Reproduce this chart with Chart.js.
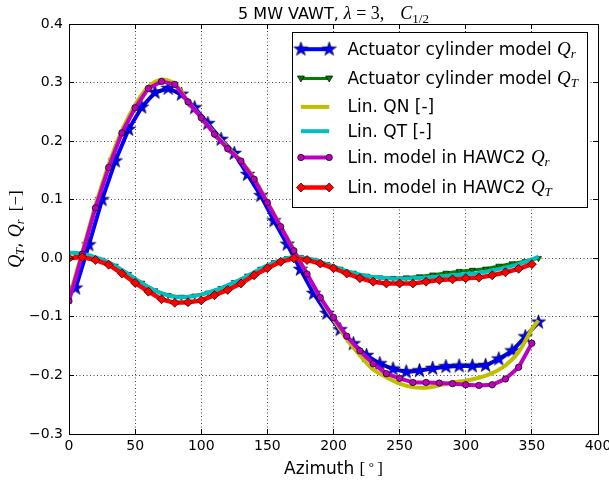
<!DOCTYPE html>
<html>
<head>
<meta charset="utf-8">
<title>5 MW VAWT</title>
<script src="https://cdn.jsdelivr.net/npm/chart.js@4.4.1/dist/chart.umd.min.js"></script>
<style>
  html, body { margin: 0; padding: 0; background: #fff; }
  canvas { display: block; }
</style>
</head>
<body>
<canvas id="chart" width="609" height="482"></canvas>
<script>
// azimuth samples [deg]
const azimuthEven = [0,10,20,30,40,50,60,70,80,90,100,110,120,130,140,150,160,170,180,190,200,210,220,230,240,250,260,270,280,290,300,310,320,330,340,350];
const azimuthOdd = [5,15,25,35,45,55,65,75,85,95,105,115,125,135,145,155,165,175,185,195,205,215,225,235,245,255,265,275,285,295,305,315,325,335,345,355];
const azimuthLin = azimuthEven.concat([355]);

// actuator cylinder model (5..355)
const acQr = [-0.051,0.023,0.100,0.166,0.220,0.258,0.283,0.290,0.280,0.257,0.230,0.203,0.179,0.143,0.107,0.064,0.024,-0.019,-0.060,-0.094,-0.122,-0.146,-0.166,-0.180,-0.189,-0.194,-0.192,-0.188,-0.185,-0.184,-0.184,-0.183,-0.172,-0.158,-0.134,-0.109];
const acQt = [0.007,0.004,-0.003,-0.013,-0.027,-0.042,-0.055,-0.063,-0.066,-0.064,-0.059,-0.051,-0.041,-0.030,-0.018,-0.007,0.000,0.002,-0.003,-0.010,-0.018,-0.025,-0.030,-0.033,-0.034,-0.033,-0.031,-0.028,-0.025,-0.022,-0.020,-0.018,-0.013,-0.009,-0.005,0.000];

// linear model (0..350, 355)
const linQn = [-0.068,0.010,0.090,0.160,0.218,0.262,0.293,0.305,0.298,0.268,0.240,0.214,0.189,0.167,0.136,0.096,0.055,0.014,-0.027,-0.068,-0.104,-0.138,-0.166,-0.190,-0.203,-0.214,-0.220,-0.221,-0.217,-0.212,-0.209,-0.204,-0.196,-0.183,-0.160,-0.121,-0.106];
const linQt = [0.010,0.008,0.002,-0.007,-0.020,-0.035,-0.049,-0.060,-0.066,-0.066,-0.062,-0.055,-0.046,-0.036,-0.024,-0.012,-0.003,0.002,0.000,-0.006,-0.014,-0.022,-0.028,-0.032,-0.034,-0.035,-0.034,-0.033,-0.031,-0.029,-0.027,-0.025,-0.021,-0.016,-0.010,-0.002,0.003];

// linear model in HAWC2 (0..350)
const hawcQr = [-0.073,0.007,0.086,0.155,0.214,0.257,0.290,0.302,0.297,0.267,0.240,0.212,0.187,0.166,0.135,0.095,0.054,0.013,-0.027,-0.067,-0.101,-0.133,-0.158,-0.180,-0.197,-0.205,-0.212,-0.212,-0.213,-0.214,-0.216,-0.217,-0.216,-0.206,-0.186,-0.145];
const hawcQt = [0.000,0.002,-0.003,-0.011,-0.026,-0.042,-0.057,-0.070,-0.076,-0.075,-0.072,-0.063,-0.054,-0.043,-0.029,-0.017,-0.006,0.000,-0.003,-0.009,-0.017,-0.026,-0.034,-0.040,-0.043,-0.043,-0.043,-0.040,-0.037,-0.036,-0.034,-0.033,-0.029,-0.024,-0.018,-0.010];

const xTicks = [0,50,100,150,200,250,300,350,400];
const yTicks = [-0.3,-0.2,-0.1,0.0,0.1,0.2,0.3,0.4];

const SANS = 'DejaVu Sans';
const MATH = 'Liberation Serif';

const pts = (xs, ys) => xs.map((x, i) => ({ x: x, y: ys[i] }));

function makeStar(size, fill) {
  const c = document.createElement('canvas');
  c.width = c.height = size;
  const g = c.getContext('2d');
  const R = size / 2 - 1, r = R * 0.4, m = size / 2;
  g.beginPath();
  for (let i = 0; i < 10; i++) {
    const a = -Math.PI / 2 + i * Math.PI / 5;
    const rad = i % 2 ? r : R;
    g.lineTo(m + rad * Math.cos(a), m + rad * Math.sin(a));
  }
  g.closePath();
  g.fillStyle = fill;
  g.fill();
  g.strokeStyle = '#000';
  g.lineWidth = 0.6;
  g.stroke();
  return c;
}
const star = makeStar(17, '#0000ff');

// text made of pieces in different fonts (for the math bits)
function drawRuns(ctx, runs, x, y, center) {
  let w = 0;
  runs.forEach(r => {
    ctx.font = r.f || '10px ' + SANS;
    r.w = r.gap !== undefined ? r.gap : ctx.measureText(r.t).width;
    w += r.w;
  });
  let cx = center ? x - w / 2 : x;
  runs.forEach(r => {
    if (r.t) { ctx.font = r.f; ctx.fillText(r.t, cx, y + (r.dy || 0)); }
    cx += r.w;
  });
}

const px = v => Math.floor(v) + 0.5;

const framePlugin = {
  id: 'frame',
  afterDatasetsDraw(chart) {
    const ctx = chart.ctx;
    const a = chart.chartArea;
    const xs = chart.scales.x, ys = chart.scales.y;
    ctx.save();
    ctx.strokeStyle = '#000';
    ctx.lineWidth = 1;
    ctx.beginPath();
    xTicks.forEach(v => {
      const p = px(xs.getPixelForValue(v));
      ctx.moveTo(p, a.bottom); ctx.lineTo(p, a.bottom - 5);
      ctx.moveTo(p, a.top); ctx.lineTo(p, a.top + 5);
    });
    yTicks.forEach(v => {
      const p = px(ys.getPixelForValue(v));
      ctx.moveTo(a.left, p); ctx.lineTo(a.left + 5, p);
      ctx.moveTo(a.right, p); ctx.lineTo(a.right - 5, p);
    });
    ctx.stroke();
    ctx.strokeRect(px(a.left), px(a.top), Math.round(a.right - a.left), Math.round(a.bottom - a.top));
    ctx.restore();
  }
};

function legendMarker(ctx, kind, x, y) {
  ctx.save();
  ctx.lineWidth = 0.7;
  ctx.strokeStyle = '#000';
  if (kind === 'star') {
    ctx.drawImage(star, x - star.width / 2, y - star.height / 2);
  } else if (kind === 'tri') {
    ctx.fillStyle = '#007f00';
    ctx.beginPath();
    ctx.moveTo(x - 3.5, y - 2.5); ctx.lineTo(x + 3.5, y - 2.5); ctx.lineTo(x, y + 3.5);
    ctx.closePath(); ctx.fill(); ctx.stroke();
  } else if (kind === 'circle') {
    ctx.fillStyle = '#bf00bf';
    ctx.beginPath(); ctx.arc(x, y, 3.2, 0, Math.PI * 2); ctx.fill(); ctx.stroke();
  } else if (kind === 'diamond') {
    ctx.fillStyle = '#ff0000';
    ctx.beginPath();
    ctx.moveTo(x, y - 4.5); ctx.lineTo(x + 4.5, y); ctx.lineTo(x, y + 4.5); ctx.lineTo(x - 4.5, y);
    ctx.closePath(); ctx.fill(); ctx.stroke();
  }
  ctx.restore();
}

const textPlugin = {
  id: 'texts',
  afterDraw(chart) {
    const ctx = chart.ctx;
    const a = chart.chartArea;
    const mid = (a.left + a.right) / 2;
    ctx.save();
    ctx.fillStyle = '#000';
    ctx.textAlign = 'left';
    ctx.textBaseline = 'alphabetic';

    // title
    drawRuns(ctx, [
      { t: '5 MW VAWT, ', f: '16px ' + SANS },
      { t: 'λ', f: 'italic 18px ' + MATH },
      { t: ' = 3,', f: '18px ' + MATH },
      { gap: 16 },
      { t: 'C', f: 'italic 18px ' + MATH },
      { t: '1/2', f: '13px ' + MATH, dy: 3.5 }
    ], mid, 19, true);

    // x label
    drawRuns(ctx, [
      { t: 'Azimuth ', f: '17px ' + SANS },
      { t: '[\u2009', f: '17px ' + MATH },
      { t: '\u00b0', f: '13px ' + MATH, dy: -3 },
      { t: '\u2009]', f: '17px ' + MATH }
    ], mid, 474, true);

    // y label
    ctx.save();
    ctx.translate(21, (a.top + a.bottom) / 2);
    ctx.rotate(-Math.PI / 2);
    drawRuns(ctx, [
      { t: 'Q', f: 'italic 18px ' + MATH },
      { t: 'T', f: 'italic 12px ' + MATH, dy: 3 },
      { t: ', ', f: '17px ' + SANS },
      { t: 'Q', f: 'italic 18px ' + MATH },
      { t: 'r', f: 'italic 12px ' + MATH, dy: 3 },
      { t: '\u2002[\u2212]', f: '17px ' + MATH }
    ], 0, 0, true);
    ctx.restore();

    // legend box
    const bw = 295, bh = 175;
    const bx = px(a.right - 10.7 - bw), by = px(a.top + 8.3);
    ctx.fillStyle = '#fff';
    ctx.fillRect(bx, by, bw, bh);
    ctx.strokeStyle = '#000';
    ctx.lineWidth = 1;
    ctx.strokeRect(bx, by, bw, bh);

    const q = (sub) => [
      { t: 'Q', f: 'italic 19px ' + MATH },
      { t: sub, f: 'italic 13px ' + MATH, dy: 3 }
    ];
    const rows = [
      { dy: 16.7, color: '#0000ff', lw: 4, mk: 'star', runs: [{ t: 'Actuator cylinder model ', f: '17px ' + SANS }].concat(q('r')) },
      { dy: 46, color: '#007f00', lw: 3, mk: 'tri', runs: [{ t: 'Actuator cylinder model ', f: '17px ' + SANS }].concat(q('T')) },
      { dy: 74.4, color: '#bfbf00', lw: 4, mk: null, runs: [{ t: 'Lin. QN [-]', f: '17px ' + SANS }] },
      { dy: 98.7, color: '#00bfbf', lw: 4, mk: null, runs: [{ t: 'Lin. QT [-]', f: '17px ' + SANS }] },
      { dy: 125, color: '#bf00bf', lw: 4, mk: 'circle', runs: [{ t: 'Lin. model in HAWC2 ', f: '17px ' + SANS }].concat(q('r')) },
      { dy: 155, color: '#ff0000', lw: 4.5, mk: 'diamond', runs: [{ t: 'Lin. model in HAWC2 ', f: '17px ' + SANS }].concat(q('T')) }
    ];
    rows.forEach(r => {
      const y = by + r.dy;
      const x0 = bx + 8.4, x1 = bx + 36.7;
      ctx.strokeStyle = r.color;
      ctx.lineWidth = r.lw;
      ctx.beginPath(); ctx.moveTo(x0, y); ctx.lineTo(x1, y); ctx.stroke();
      if (r.mk) { legendMarker(ctx, r.mk, x0, y); legendMarker(ctx, r.mk, x1, y); }
      ctx.fillStyle = '#000';
      drawRuns(ctx, r.runs, bx + 55, y + 5.5, false);
    });
    ctx.restore();
  }
};

const tickFont = { family: SANS, size: 14 };

new Chart(document.getElementById('chart'), {
  type: 'line',
  data: {
    datasets: [
      { label: 'Actuator cylinder model Qr', data: pts(azimuthOdd, acQr), borderColor: '#0000ff', borderWidth: 4,
        pointStyle: star, pointRadius: 7, order: 6 },
      { label: 'Actuator cylinder model QT', data: pts(azimuthOdd, acQt), borderColor: '#007f00', borderWidth: 3,
        pointStyle: 'triangle', pointRotation: 180, pointRadius: 3.5, pointBackgroundColor: '#007f00',
        pointBorderColor: '#000', pointBorderWidth: 0.6, order: 5 },
      { label: 'Lin. QN [-]', data: pts(azimuthLin, linQn), borderColor: '#bfbf00', borderWidth: 4,
        pointRadius: 0, tension: 0.3, order: 4 },
      { label: 'Lin. QT [-]', data: pts(azimuthLin, linQt), borderColor: '#00bfbf', borderWidth: 4,
        pointRadius: 0, tension: 0.3, order: 3 },
      { label: 'Lin. model in HAWC2 Qr', data: pts(azimuthEven, hawcQr), borderColor: '#bf00bf', borderWidth: 4,
        pointStyle: 'circle', pointRadius: 3.2, pointBackgroundColor: '#bf00bf', pointBorderColor: '#000',
        pointBorderWidth: 0.7, order: 2 },
      { label: 'Lin. model in HAWC2 QT', data: pts(azimuthEven, hawcQt), borderColor: '#ff0000', borderWidth: 4.5,
        pointStyle: 'rectRot', pointRadius: 4.5, pointBackgroundColor: '#ff0000', pointBorderColor: '#000',
        pointBorderWidth: 0.7, order: 1 }
    ]
  },
  options: {
    responsive: false,
    animation: false,
    events: [],
    layout: { padding: { top: 24, right: 10, left: 0, bottom: 0 } },
    elements: { line: { borderJoinStyle: 'round', fill: false } },
    plugins: { legend: { display: false }, tooltip: { enabled: false } },
    scales: {
      x: {
        type: 'linear', min: 0, max: 400,
        afterBuildTicks: s => { s.ticks = xTicks.map(v => ({ value: v })); },
        afterFit: s => { s.height = 48; s.paddingLeft = 0; s.paddingRight = 0; },
        ticks: { font: tickFont, color: '#000', padding: 4, maxRotation: 0, autoSkip: false,
          callback: v => String(v) },
        grid: { color: 'rgba(0,0,0,0.75)', lineWidth: 1, drawTicks: false },
        border: { display: false, dash: [1, 2.5] }
      },
      y: {
        min: -0.3, max: 0.4,
        afterBuildTicks: s => { s.ticks = yTicks.map(v => ({ value: v })); },
        afterFit: s => { s.width = 69; s.paddingTop = 0; s.paddingBottom = 0; },
        ticks: { font: tickFont, color: '#000', padding: 6, autoSkip: false,
          callback: v => v.toFixed(1).replace('-', '\u2212') },
        grid: { color: 'rgba(0,0,0,0.75)', lineWidth: 1, drawTicks: false },
        border: { display: false, dash: [1, 2.5] }
      }
    }
  },
  plugins: [framePlugin, textPlugin]
});
</script>
</body>
</html>
